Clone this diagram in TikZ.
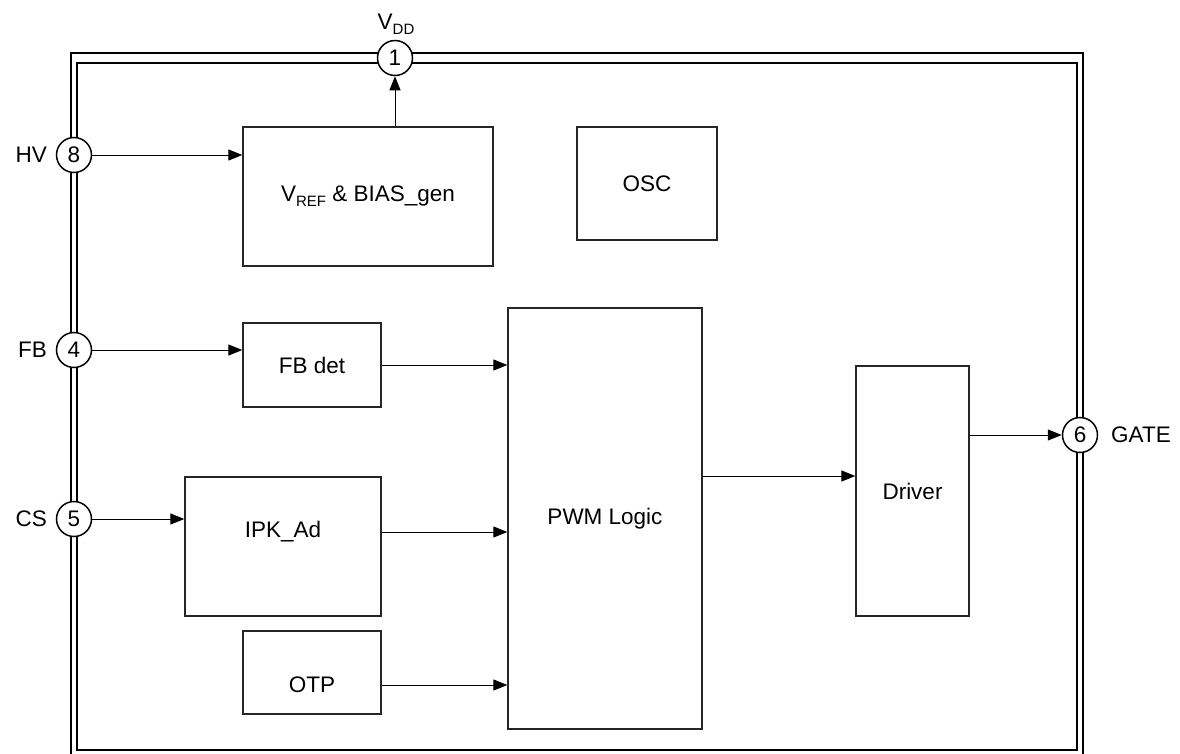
\documentclass[tikz,border=0pt]{standalone}
\usepackage{fontspec}
\setmainfont{Liberation Sans}
\usetikzlibrary{arrows.meta}
\newcommand{\lowtxt}[1]{\raisebox{-0.22em}{\fontsize{15}{15}\selectfont #1}}
\begin{document}
\begin{tikzpicture}[x=1pt,y=-1pt,
  font=\fontsize{22.5}{26}\selectfont,
  blk/.style={draw=black!85, line width=1.3pt, fill=white, inner sep=0pt},
  pin/.style={circle, draw=black, line width=1.5pt, fill=white, minimum size=35pt, inner sep=0pt},
  lbl/.style={inner sep=0pt},
  sig/.style={line width=1pt, -{Triangle[length=14pt,width=11pt]}},
  frame/.style={line width=2pt}]
\useasboundingbox (0,0) rectangle (1180,753);

% package outline: outer line runs off the lower edge
\draw[frame] (71,760) -- (71,53) -- (1083,53) -- (1083,760);
\draw[frame, line width=1.8pt] (77,63) rectangle (1077,750);

% functional blocks
\node[blk, minimum width=250pt, minimum height=139pt] (vref) at (368,196.5)
  {V\lowtxt{REF} \& BIAS\_gen};
\node[blk, minimum width=140pt, minimum height=113pt] (osc) at (647,183.5) {OSC};
\node[blk, minimum width=138pt, minimum height=84pt] (fbdet) at (312,365) {FB det};
\node[blk, minimum width=196pt, minimum height=139pt] (ipk) at (283,546.5) {};
\node[lbl] (ipktxt) at (283,532) {IPK\_Ad};
\node[blk, minimum width=138pt, minimum height=83pt] (otp) at (312,672.5) {};
\node[lbl] (otptxt) at (312,685) {OTP};
\node[blk, minimum width=194pt, minimum height=421pt] (pwm) at (605,518.5) {PWM Logic};
\node[blk, minimum width=113pt, minimum height=250pt] (drv) at (912.5,491) {Driver};

% pins
\node[pin] (p1) at (395,58) {1};
\node[pin] (p8) at (74,155) {8};
\node[pin] (p4) at (74,350) {4};
\node[pin] (p5) at (74,519) {5};
\node[pin] (p6) at (1080,435) {6};

% pin names
\node[lbl] (vdd) at (396,24) {V\lowtxt{DD}};
\node[lbl, anchor=east] (hv) at (47,155) {HV};
\node[lbl, anchor=east] (fb) at (47,350) {FB};
\node[lbl, anchor=east] (cs) at (47,519) {CS};
\node[lbl, anchor=west] (gate) at (1111,435) {GATE};

% signal paths
\coordinate (pwmout) at (702,476);
\draw[sig] (p8) -- (vref.west |- p8);
\draw[sig] (vref.north -| p1) -- (p1);
\draw[sig] (p4) -- (fbdet.west |- p4);
\draw[sig] (p5) -- (ipk.west |- p5);
\draw[sig] (fbdet.east) -- (pwm.west |- fbdet.east);
\draw[sig] (ipk.east |- ipktxt) -- (pwm.west |- ipktxt);
\draw[sig] (otp.east |- otptxt) -- (pwm.west |- otptxt);
\draw[sig] (pwmout) -- (drv.west |- pwmout);
\draw[sig] (drv.east |- p6) -- (p6);
\end{tikzpicture}
\end{document}
